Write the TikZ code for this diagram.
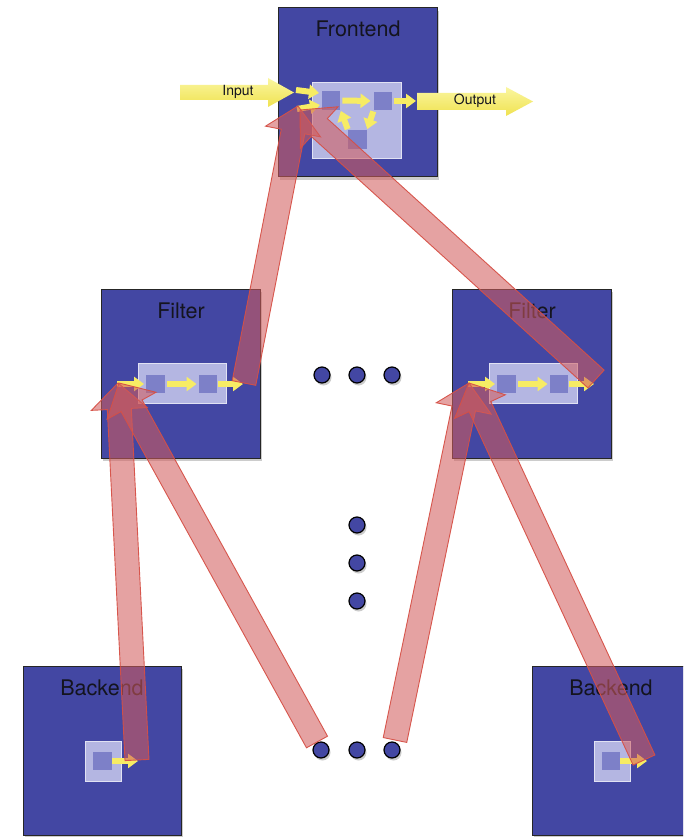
\documentclass[tikz,border=0pt]{standalone}
\usepackage{fontspec}
\setmainfont{TeX Gyre Heros}
\usetikzlibrary{calc,shadows,arrows.meta}
\definecolor{boxblue}{RGB}{67,71,163}
\definecolor{innerlight}{RGB}{180,182,226}
\definecolor{sqblue}{RGB}{125,128,200}
\definecolor{ylw}{RGB}{247,236,100}
\definecolor{ylwtop}{RGB}{250,246,160}
\definecolor{ylwbot}{RGB}{240,226,80}
\definecolor{redfill}{RGB}{210,92,92}
\definecolor{redline}{RGB}{214,80,70}
\definecolor{txt}{RGB}{20,20,30}
\newcommand\blockarr[6]{%
  \coordinate (ba-n) at ($(#3)!#6!(#2)$);
  \path[#1] ($(#2)!#4!90:(#3)$) -- ($(ba-n)!#4!90:(#3)$) -- ($(ba-n)!#5!90:(#3)$) -- (#3)
    -- ($(ba-n)!#5!-90:(#3)$) -- ($(ba-n)!#4!-90:(#3)$) -- ($(#2)!#4!-90:(#3)$) -- cycle;}
\tikzset{
  box/.style={draw=black!85, line width=1pt, fill=boxblue, inner sep=0,
    drop shadow={shadow xshift=2pt, shadow yshift=-3pt, opacity=0.4}},
  boxtitle/.style={text=txt, font=\fontsize{21.5}{24}\selectfont, inner sep=0},
  innerbox/.style={fill=innerlight, draw=white!60!innerlight, line width=0.8pt, inner sep=0},
  sq/.style={fill=sqblue, minimum size=18.5pt, inner sep=0},
  yarr/.style={draw=ylw, line width=6pt, -{Triangle[width=14pt,length=10pt]}},
  dot/.style={circle, draw=black, line width=1.2pt, fill=boxblue, minimum size=16pt, inner sep=0,
    drop shadow={shadow xshift=1.5pt, shadow yshift=-2.5pt, opacity=0.4}},
  redarr/.style={fill=redfill, fill opacity=0.57, draw=redline, draw opacity=0.95, line width=0.9pt},
  bigyarr/.style={top color=ylwtop, bottom color=ylwbot, draw=none},
  iolabel/.style={text=txt, font=\fontsize{14}{16}\selectfont, inner sep=0}
}
\begin{document}
\begin{tikzpicture}[x=1pt,y=-1pt]
\useasboundingbox (0,0) rectangle (683,837);
\clip (0,0) rectangle (683,837);
\fill[white] (0,0) rectangle (683,837);

% boxes
\node[box, minimum width=159pt, minimum height=169pt] (fe) at (357.5,92.5) {};
\node[box, minimum width=159pt, minimum height=169pt] (fl) at (180.5,373.5) {};
\node[box, minimum width=159pt, minimum height=169pt] (fr) at (531.5,373.5) {};
\node[box, minimum width=158pt, minimum height=169pt] (bl) at (102,750.5) {};
\node[box, minimum width=159pt, minimum height=169pt] (br) at (611.5,750.5) {};

% titles
\node[boxtitle] (fe-t) at (358,29) {Frontend};
\node[boxtitle] (fl-t) at (181,311) {Filter};
\node[boxtitle] (fr-t) at (532,311) {Filter};
\node[boxtitle] (bl-t) at (102,688) {Backend};
\node[boxtitle] (br-t) at (611,688) {Backend};

% inner rectangles
\node[innerbox, minimum width=89pt, minimum height=76pt] (fe-in) at (356.5,120) {};
\node[innerbox, minimum width=88pt, minimum height=40pt] (fl-in) at (182,383) {};
\node[innerbox, minimum width=88pt, minimum height=40pt] (fr-in) at (533,383) {};
\node[innerbox, minimum width=36pt, minimum height=40pt] (bl-in) at (103,761) {};
\node[innerbox, minimum width=36pt, minimum height=40pt] (br-in) at (612,761) {};

% small squares
\node[sq] (fe1) at (331,100.5) {};
\node[sq] (fe2) at (383,101) {};
\node[sq] (fe3) at (357.5,139.5) {};
\node[sq] (fl1) at (155.5,384) {};
\node[sq] (fl2) at (208,384) {};
\node[sq] (fr1) at (506.5,384) {};
\node[sq] (fr2) at (559,384) {};
\node[sq] (bl1) at (102.5,761) {};
\node[sq] (br1) at (611,761) {};

% coordinates for free ends
\coordinate (in-tail) at (180,92.5);
\coordinate (in-tip) at (294,92.5);
\coordinate (out-tail) at (417,101.5);
\coordinate (out-tip) at (533,101.5);
\coordinate (fe-a1s) at (296,90);
\coordinate (fe-a1e) at (319,93);
\coordinate (fe-a2s) at (297,109);
\coordinate (fe-a2e) at (320,105);
\coordinate (fe-o) at (416,101);
\coordinate (fl-is) at (117,384);
\coordinate (fl-o) at (243,384);
\coordinate (fr-is) at (468,384);
\coordinate (fr-o) at (594,384);
\coordinate (bl-o) at (138,761);
\coordinate (br-o) at (647,761);

% big input / output arrows
\blockarr{bigyarr}{in-tail}{in-tip}{7.5pt}{14.5pt}{26pt}
\blockarr{bigyarr}{out-tail}{out-tip}{8.5pt}{14.5pt}{27pt}
\node[iolabel] (inlbl) at (238,92) {Input};
\node[iolabel] (outlbl) at (475,101) {Output};

% small yellow arrows
\draw[yarr] (fe-a1s) -- (fe-a1e);
\draw[yarr] (fe-a2s) -- (fe-a2e);
\draw[yarr, shorten <=2pt, shorten >=3pt] (fe1.east) -- (fe2.west);
\draw[yarr, shorten <=2pt] (fe2.east) -- (fe-o);
\draw[yarr, shorten <=1pt, shorten >=1pt] (fe2.south west) -- (fe3.north east);
\draw[yarr, shorten <=1pt, shorten >=1pt] (fe3.north west) -- (fe1.south east);
\draw[yarr, shorten >=2pt] (fl-is) -- (fl1.west);
\draw[yarr, shorten <=2pt, shorten >=2pt] (fl1.east) -- (fl2.west);
\draw[yarr, shorten <=1pt] (fl2.east) -- (fl-o);
\draw[yarr, shorten >=2pt] (fr-is) -- (fr1.west);
\draw[yarr, shorten <=2pt, shorten >=2pt] (fr1.east) -- (fr2.west);
\draw[yarr, shorten <=1pt] (fr2.east) -- (fr-o);
\draw[yarr] (bl1.east) -- (bl-o);
\draw[yarr] (br1.east) -- (br-o);

% dots
\node[dot] (d1) at (322,375) {};
\node[dot] (d2) at (357,375) {};
\node[dot] (d3) at (392,375) {};
\node[dot] (v1) at (357,525) {};
\node[dot] (v2) at (357,563) {};
\node[dot] (v3) at (357,601) {};
\node[dot] (b1) at (321,750) {};
\node[dot] (b2) at (357,750) {};
\node[dot] (b3) at (392,750) {};

% red arrow end points
\coordinate (r1s) at (244,383);
\coordinate (r1e) at (298,106);
\coordinate (r2s) at (596,379);
\coordinate (r2e) at (300,110);
\coordinate (r3s) at (137,760);
\coordinate (r3e) at (118,383);
\coordinate (r4s) at (317,742);
\coordinate (r4e) at (119,383);
\coordinate (r5s) at (395,740);
\coordinate (r5e) at (469,383);
\coordinate (r6s) at (644,760);
\coordinate (r6e) at (469,383);

% red arrows
\blockarr{redarr}{r1s}{r1e}{12pt}{28pt}{26pt}
\blockarr{redarr}{r2s}{r2e}{12pt}{28pt}{26pt}
\blockarr{redarr}{r3s}{r3e}{12pt}{28pt}{26pt}
\blockarr{redarr}{r4s}{r4e}{12pt}{28pt}{26pt}
\blockarr{redarr}{r5s}{r5e}{12pt}{28pt}{26pt}
\blockarr{redarr}{r6s}{r6e}{12pt}{28pt}{26pt}
\end{tikzpicture}
\end{document}
